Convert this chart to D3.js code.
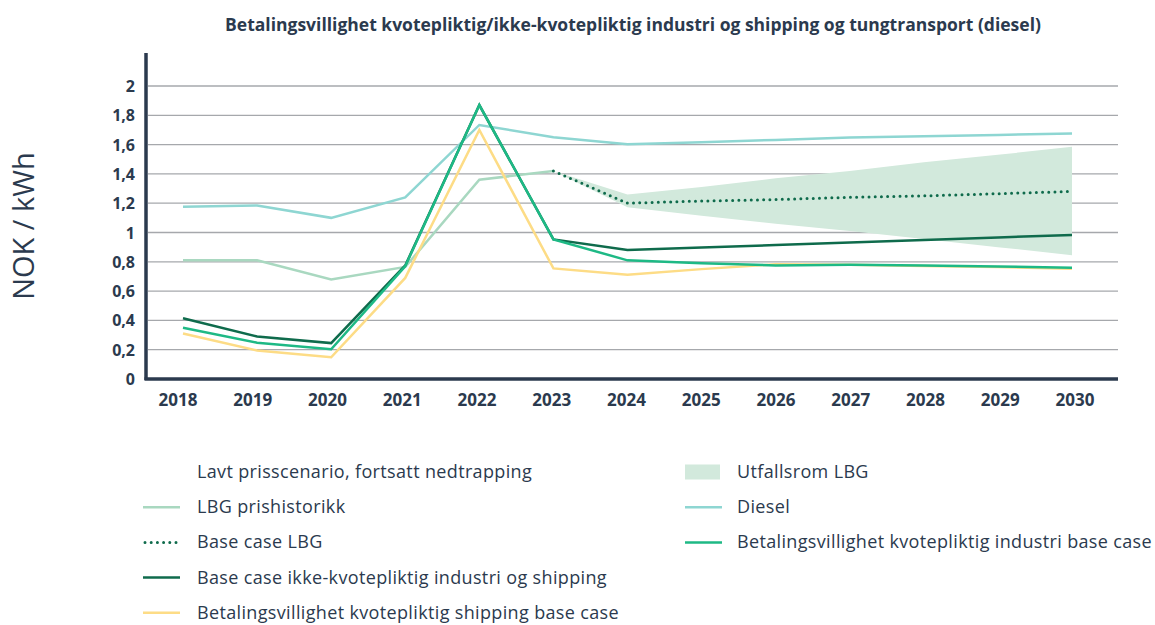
<!DOCTYPE html>
<html>
<head>
<meta charset="utf-8">
<script src="https://cdn.jsdelivr.net/npm/d3@7"></script>
<style>
  body { margin: 0; background: #fff; }
  svg { display: block; font-family: "Open Sans", Lato, sans-serif; }
</style>
</head>
<body>
<svg id="chart" width="1155" height="625"></svg>
<script>
// Years on the x axis
const years = [2018, 2019, 2020, 2021, 2022, 2023, 2024, 2025, 2026, 2027, 2028, 2029, 2030];
const yTicks = [0, 0.2, 0.4, 0.6, 0.8, 1, 1.2, 1.4, 1.6, 1.8, 2];

// NOK / kWh per series (null = no value)
const lbgHistory   = [0.81, 0.81, 0.68, 0.765, 1.36, 1.42, null, null, null, null, null, null, null];
const lbgBase      = [null, null, null, null, null, 1.42, 1.20, 1.215, 1.225, 1.24, 1.25, 1.265, 1.28];
const nonQuotaBase = [0.415, 0.29, 0.245, 0.775, 1.87, 0.953, 0.88, 0.897, 0.914, 0.931, 0.949, 0.966, 0.983];
const shippingWtp  = [0.31, 0.195, 0.148, 0.69, 1.70, 0.755, 0.712, 0.75, 0.783, 0.78, 0.772, 0.765, 0.752];
const diesel       = [1.176, 1.185, 1.10, 1.24, 1.734, 1.65, 1.602, 1.616, 1.632, 1.648, 1.657, 1.666, 1.676];
const industryWtp  = [0.35, 0.248, 0.203, 0.77, 1.87, 0.953, 0.81, 0.79, 0.775, 0.78, 0.775, 0.768, 0.76];
// Outcome range for LBG (upper / lower)
const lbgRangeHigh = [null, null, null, null, null, 1.42, 1.26, 1.31, 1.37, 1.42, 1.48, 1.53, 1.586];
const lbgRangeLow  = [null, null, null, null, null, 1.42, 1.172, 1.115, 1.06, 1.01, 0.955, 0.90, 0.845];

const svg = d3.select("#chart");
const ink = "#2b3a4e";

const x = d3.scalePoint().domain(years).range([183, 1072]);
const xLabel = d3.scalePoint().domain(years).range([178, 1075]);
const y = d3.scaleLinear().domain([0, 2]).range([379, 86]);

// title
svg.append("text")
  .attr("x", 633).attr("y", 31)
  .attr("text-anchor", "middle")
  .attr("font-size", 17.5).attr("font-weight", 700)
  .attr("fill", ink)
  .text("Betalingsvillighet kvotepliktig/ikke-kvotepliktig industri og shipping og tungtransport (diesel)");

// gridlines
svg.append("g").selectAll("line")
  .data(yTicks.filter(d => d > 0))
  .join("line")
  .attr("x1", 148).attr("x2", 1118)
  .attr("y1", d => y(d)).attr("y2", d => y(d))
  .attr("stroke", "#a6a8ac").attr("stroke-width", 1.3);

// y tick labels
const fmt = d => String(d).replace(".", ",");
svg.append("g").selectAll("text")
  .data(yTicks)
  .join("text")
  .attr("x", 135).attr("y", d => y(d) + 6)
  .attr("text-anchor", "end")
  .attr("font-size", 16).attr("font-weight", 700)
  .attr("fill", ink)
  .text(fmt);

// y axis title
svg.append("text")
  .attr("transform", "translate(34,226) rotate(-90)")
  .attr("text-anchor", "middle")
  .attr("font-size", 29).attr("font-weight", 400)
  .attr("fill", ink)
  .text("NOK / kWh");

// outcome band
const idx = years.map((d, i) => i);
const band = d3.area()
  .defined(i => lbgRangeHigh[i] != null)
  .x(i => x(years[i]))
  .y0(i => y(lbgRangeLow[i]))
  .y1(i => y(lbgRangeHigh[i]));
svg.append("path").attr("d", band(idx)).attr("fill", "#d2e9dc");

const line = vals => d3.line()
  .defined(i => vals[i] != null)
  .x(i => x(years[i]))
  .y(i => y(vals[i]))(idx);

const series = [
  { vals: lbgHistory,   color: "#a9d8c0", width: 2.5 },
  { vals: diesel,       color: "#8ed6d2", width: 2.5 },
  { vals: shippingWtp,  color: "#fddc86", width: 2.5 },
  { vals: nonQuotaBase, color: "#0f6b4c", width: 2.5 },
  { vals: industryWtp,  color: "#1eb985", width: 2.5 },
];
series.forEach(s => {
  svg.append("path").attr("d", line(s.vals))
    .attr("fill", "none").attr("stroke", s.color)
    .attr("stroke-width", s.width).attr("stroke-linejoin", "miter");
});
svg.append("path").attr("d", line(lbgBase))
  .attr("fill", "none").attr("stroke", "#0f6b4c")
  .attr("stroke-width", 3).attr("stroke-dasharray", "0 6.2")
  .attr("stroke-linecap", "round");

// axes
svg.append("line").attr("x1", 146).attr("x2", 146).attr("y1", 53).attr("y2", 380)
  .attr("stroke", ink).attr("stroke-width", 3.5);
svg.append("line").attr("x1", 144.5).attr("x2", 1118).attr("y1", 379).attr("y2", 379)
  .attr("stroke", ink).attr("stroke-width", 3.5);

// x tick labels
svg.append("g").selectAll("text")
  .data(years)
  .join("text")
  .attr("x", d => xLabel(d)).attr("y", 406)
  .attr("text-anchor", "middle")
  .attr("font-size", 17).attr("font-weight", 700)
  .attr("fill", ink)
  .text(d => d);

// legend
const legend = [
  { label: "Lavt prisscenario, fortsatt nedtrapping", col: 0, row: 0, kind: "none" },
  { label: "LBG prishistorikk", col: 0, row: 1, kind: "line", color: "#a9d8c0" },
  { label: "Base case LBG", col: 0, row: 2, kind: "dot", color: "#0f6b4c" },
  { label: "Base case ikke-kvotepliktig industri og shipping", col: 0, row: 3, kind: "line", color: "#0f6b4c" },
  { label: "Betalingsvillighet kvotepliktig shipping base case", col: 0, row: 4, kind: "line", color: "#fddc86" },
  { label: "Utfallsrom LBG", col: 1, row: 0, kind: "rect", color: "#d2e9dc" },
  { label: "Diesel", col: 1, row: 1, kind: "line", color: "#8ed6d2" },
  { label: "Betalingsvillighet kvotepliktig industri base case", col: 1, row: 2, kind: "line", color: "#1eb985" },
];
const colX = [143, 685];
const rowY = r => 472 + r * 35.2;
const lg = svg.append("g").selectAll("g").data(legend).join("g")
  .attr("transform", d => `translate(${colX[d.col]},${rowY(d.row)})`);
lg.filter(d => d.kind === "line").append("line")
  .attr("x1", 0).attr("x2", 37).attr("y1", 0).attr("y2", 0)
  .attr("stroke", d => d.color).attr("stroke-width", 2.5);
lg.filter(d => d.kind === "dot").append("line")
  .attr("x1", 2).attr("x2", 37).attr("y1", 0).attr("y2", 0)
  .attr("stroke", d => d.color).attr("stroke-width", 3)
  .attr("stroke-dasharray", "0 6.2").attr("stroke-linecap", "round");
lg.filter(d => d.kind === "rect").append("rect")
  .attr("x", 0).attr("y", -7.5).attr("width", 35).attr("height", 15)
  .attr("fill", d => d.color);
lg.append("text")
  .attr("x", d => d.col === 0 ? 54 : 52).attr("y", 6)
  .attr("font-size", 18).attr("letter-spacing", 0.35).attr("fill", ink)
  .text(d => d.label);
</script>
</body>
</html>
